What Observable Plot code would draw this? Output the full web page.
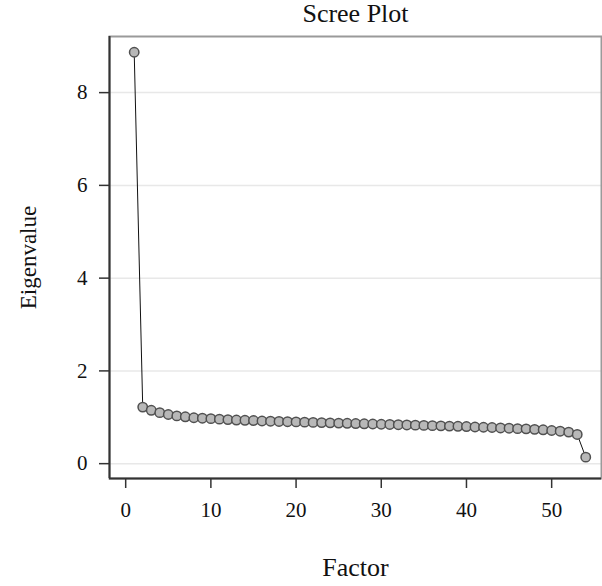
<!DOCTYPE html>
<html>
<head>
<meta charset="utf-8">
<script src="https://cdn.jsdelivr.net/npm/d3@7"></script>
<script src="https://cdn.jsdelivr.net/npm/@observablehq/plot@0.6"></script>
<style>
  html, body { margin: 0; padding: 0; background: #fff; }
  #chart svg { display: block; }
</style>
</head>
<body>
<div id="chart"></div>
<script>
// Eigenvalues of the 54 extracted factors, in order
const factors = d3.range(1, 55);
const eigenvalues = [
  8.87, 1.22, 1.15, 1.10, 1.06, 1.03, 1.01, 0.99, 0.98, 0.97,
  0.96, 0.95, 0.94, 0.935, 0.93, 0.92, 0.915, 0.91, 0.905, 0.90,
  0.895, 0.89, 0.885, 0.88, 0.875, 0.87, 0.865, 0.86, 0.855, 0.85,
  0.845, 0.84, 0.835, 0.83, 0.825, 0.82, 0.815, 0.81, 0.805, 0.80,
  0.79, 0.785, 0.78, 0.77, 0.765, 0.755, 0.75, 0.74, 0.73, 0.715,
  0.70, 0.68, 0.63, 0.14
];
const xTicks = [0, 10, 20, 30, 40, 50];
const yTicks = [0, 2, 4, 6, 8];
const xDomain = [-1.9, 55.85];
const yDomain = [-0.32, 9.21];

const data = factors.map((f, i) => ({factor: f, eigenvalue: eigenvalues[i]}));

const font = "'Liberation Serif', serif";

const chart = Plot.plot({
  width: 602,
  height: 586,
  marginLeft: 109,
  marginRight: 1,
  marginTop: 36,
  marginBottom: 108,
  style: {fontFamily: font, fontSize: "20px", color: "#111", background: "#fff"},
  x: {domain: xDomain},
  y: {domain: yDomain},
  marks: [
    Plot.gridY(yTicks, {stroke: "#e8e8e8", strokeOpacity: 1, strokeWidth: 1.5}),
    Plot.frame({stroke: "#9a9a9a", strokeWidth: 2}),
    Plot.ruleX([xDomain[0]], {stroke: "#333", strokeWidth: 2}),
    Plot.ruleY([yDomain[0]], {stroke: "#333", strokeWidth: 2}),
    Plot.axisY(yTicks, {tickSize: 10, tickPadding: 12, stroke: "#333", strokeWidth: 1.5, label: null, fontSize: 21}),
    Plot.axisX(xTicks, {tickSize: 10, tickPadding: 14, stroke: "#333", strokeWidth: 1.5, label: null, fontSize: 21}),
    // axis titles and chart title
    Plot.text(["Eigenvalue"], {frameAnchor: "left", dx: -81, rotate: -90, textAnchor: "middle", lineAnchor: "middle", fontSize: 23}),
    Plot.text(["Factor"], {frameAnchor: "bottom", dy: 89, lineAnchor: "middle", fontSize: 26}),
    Plot.text(["Scree Plot"], {frameAnchor: "top", dy: -23, lineAnchor: "middle", fontSize: 26}),
    Plot.line(data, {x: "factor", y: "eigenvalue", stroke: "#111", strokeWidth: 1}),
    Plot.dot(data, {x: "factor", y: "eigenvalue", r: 4.7, fill: "#b8b8b8", stroke: "#505050", strokeWidth: 1.5})
  ]
});

document.getElementById("chart").append(chart);
</script>
</body>
</html>
